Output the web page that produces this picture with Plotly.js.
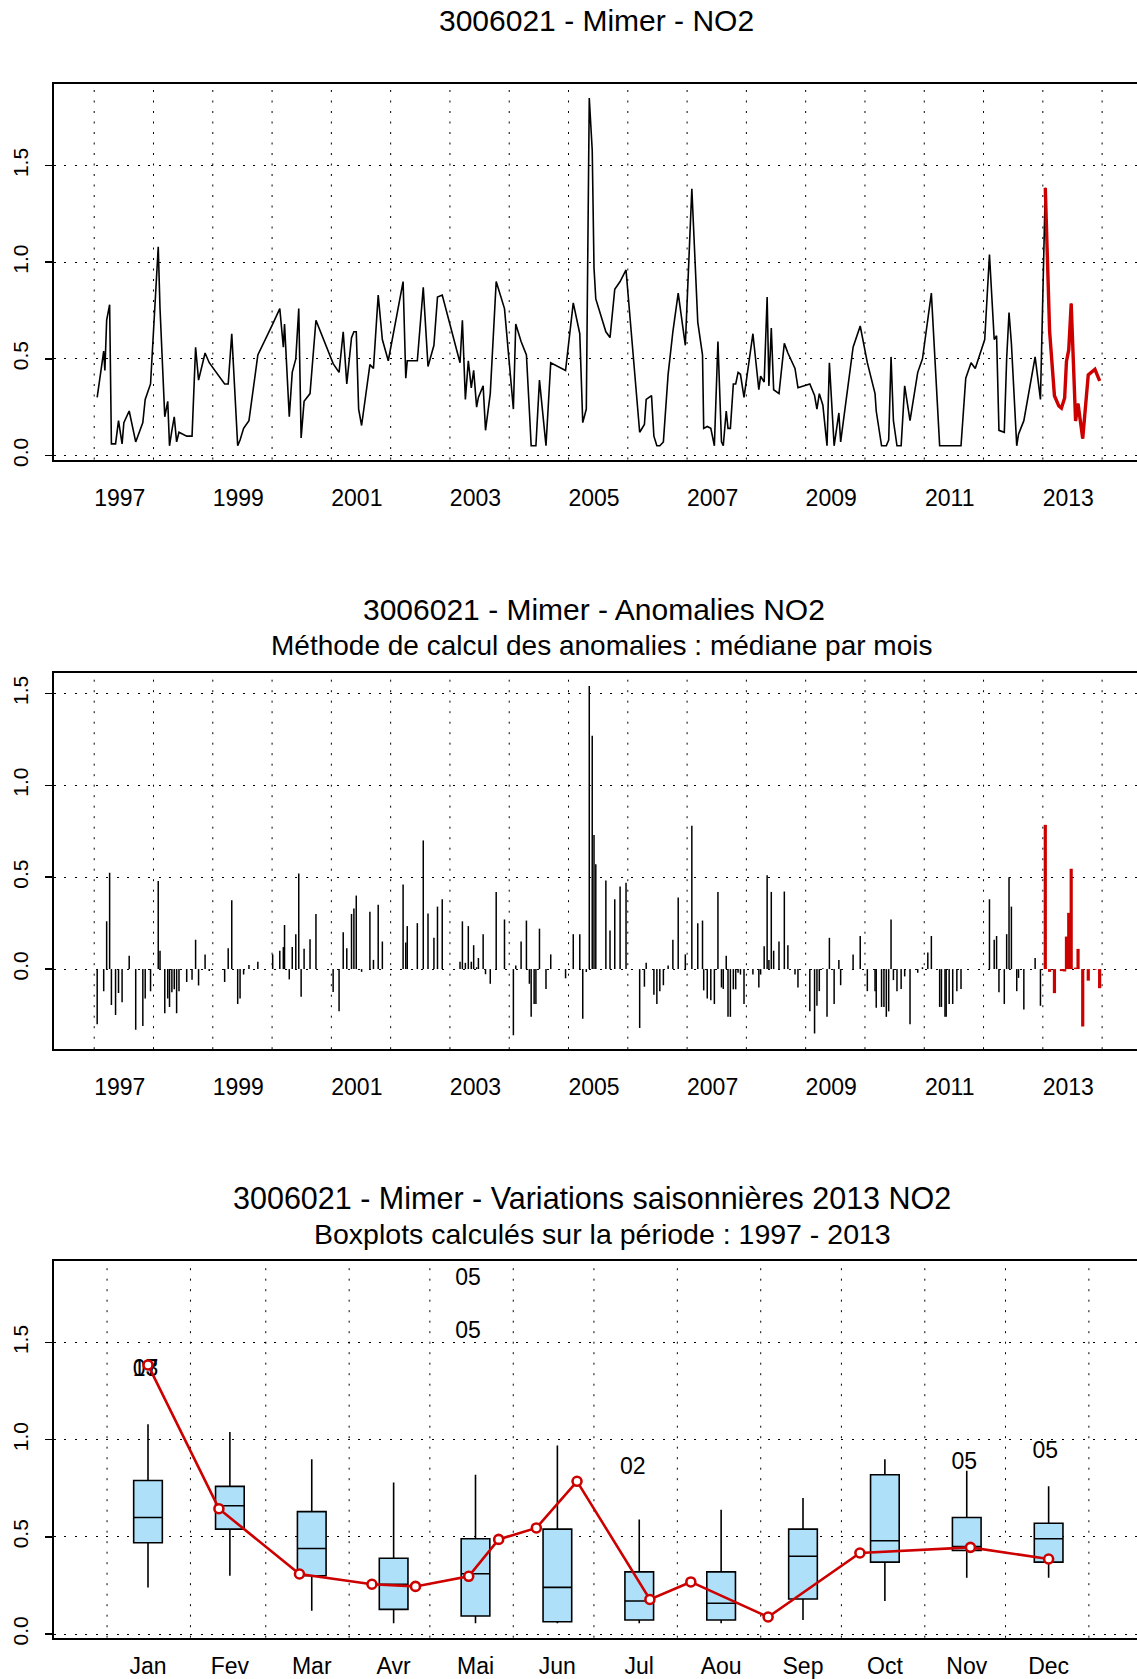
<!DOCTYPE html>
<html><head><meta charset="utf-8">
<script src="https://cdn.plot.ly/plotly-3.0.1.min.js"></script>
<style>html,body{margin:0;padding:0;overflow:hidden;background:#fff}#chart{width:1200px;height:1679px}</style>
</head><body><div id="chart"></div><script>
// ---- Data: NO2 series (decimal year, value) ----
const histT = [1997.05,1997.16,1997.18,1997.21,1997.26,1997.29,1997.36,1997.41,1997.47,1997.50,1997.59,1997.70,1997.82,1997.86,1997.95,
1998.08,1998.11,1998.19,1998.24,1998.27,1998.31,1998.35,1998.39,1998.43,1998.56,1998.65,1998.71,1998.76,1998.87,1998.94,
1999.20,1999.26,1999.32,1999.42,1999.46,1999.52,1999.61,1999.76,
2000.01,2000.13,2000.19,2000.21,2000.29,2000.34,2000.40,2000.45,2000.49,2000.54,2000.64,2000.74,
2001.03,2001.13,2001.20,2001.26,2001.34,2001.38,2001.42,2001.46,2001.51,2001.65,2001.71,2001.79,2001.86,2001.96,
2002.21,2002.255,2002.28,2002.45,2002.55,2002.63,2002.73,2002.79,2002.87,
2003.17,2003.21,2003.26,2003.31,2003.36,2003.40,2003.45,2003.48,2003.56,2003.60,2003.68,2003.78,2003.92,
2004.07,2004.11,2004.20,2004.29,2004.34,2004.37,2004.42,2004.45,2004.51,2004.62,2004.70,2004.95,
2005.08,2005.19,2005.24,2005.30,2005.35,2005.40,2005.43,2005.46,2005.63,2005.70,2005.78,2005.87,2005.97,
2006.20,2006.28,2006.31,2006.40,2006.44,2006.49,2006.54,2006.60,2006.68,2006.76,2006.85,2006.97,
2007.08,2007.18,2007.26,2007.28,2007.34,2007.40,2007.46,2007.52,2007.58,2007.61,2007.66,2007.69,2007.73,2007.78,2007.82,2007.86,2007.90,2007.96,
2008.11,2008.21,2008.24,2008.30,2008.35,2008.38,2008.42,2008.46,2008.55,2008.64,2008.70,2008.82,2008.87,
2009.07,2009.15,2009.19,2009.23,2009.29,2009.36,2009.40,2009.48,2009.56,2009.59,2009.80,2009.92,
2010.04,2010.17,2010.19,2010.28,2010.32,2010.36,2010.40,2010.44,2010.48,2010.54,2010.61,2010.67,2010.76,2010.89,2010.97,
2011.06,2011.12,2011.26,2011.29,2011.35,2011.37,2011.42,2011.48,2011.55,2011.62,2011.70,2011.79,2011.86,
2012.02,2012.10,2012.18,2012.22,2012.26,2012.35,2012.39,2012.43,2012.47,2012.56,2012.59,2012.68,2012.87,2012.96];
const histV = [0.30,0.54,0.44,0.70,0.78,0.06,0.06,0.18,0.06,0.17,0.23,0.07,0.17,0.29,0.37,
1.08,0.76,0.20,0.28,0.05,0.13,0.20,0.07,0.12,0.10,0.10,0.56,0.39,0.53,0.48,
0.37,0.37,0.63,0.05,0.08,0.14,0.18,0.52,
0.68,0.76,0.56,0.68,0.20,0.43,0.50,0.76,0.09,0.28,0.32,0.70,
0.475,0.43,0.64,0.37,0.61,0.64,0.64,0.24,0.155,0.47,0.45,0.83,0.60,0.49,
0.90,0.40,0.49,0.49,0.87,0.46,0.57,0.82,0.83,
0.48,0.70,0.29,0.49,0.35,0.44,0.25,0.30,0.36,0.13,0.32,0.90,0.76,
0.24,0.68,0.59,0.52,0.23,0.05,0.05,0.05,0.39,0.05,0.48,0.44,
0.79,0.63,0.17,0.24,1.85,1.58,0.97,0.81,0.64,0.61,0.86,0.90,0.96,
0.12,0.16,0.29,0.31,0.10,0.05,0.05,0.07,0.42,0.64,0.84,0.57,
1.38,0.69,0.52,0.14,0.15,0.14,0.05,0.59,0.07,0.05,0.23,0.14,0.14,0.37,0.37,0.43,0.42,0.30,
0.63,0.34,0.41,0.38,0.82,0.36,0.66,0.34,0.32,0.58,0.53,0.45,0.35,
0.37,0.31,0.24,0.32,0.26,0.05,0.48,0.05,0.22,0.07,0.56,0.67,
0.48,0.32,0.23,0.05,0.05,0.05,0.08,0.51,0.18,0.05,0.05,0.36,0.18,0.43,0.50,
0.69,0.84,0.05,0.05,0.05,0.05,0.05,0.05,0.05,0.05,0.40,0.48,0.45,
0.60,1.04,0.60,0.62,0.13,0.12,0.50,0.74,0.58,0.05,0.11,0.18,0.51,0.29];

// 2013 values (position within the year on the month scale, value)
const pos2013 = [1.0,1.866,2.85,3.735,4.267,4.917,5.283,5.743,6.24,7.13,7.63,8.574,9.695,11.045,12.0];
const val2013 = [1.385,0.645,0.309,0.256,0.245,0.297,0.487,0.546,0.786,0.178,0.268,0.0875,0.417,0.446,0.386];

// Monthly boxplot statistics (1997 - 2013)
const monthLabels = ['Jan','Fev','Mar','Avr','Mai','Jun','Jul','Aou','Sep','Oct','Nov','Dec'];
const boxLow  = [0.24,0.30,0.12,0.055,0.055,0.055,0.055,0.055,0.072,0.17,0.29,0.29];
const boxQ1   = [0.47,0.54,0.30,0.127,0.093,0.063,0.072,0.072,0.18,0.37,0.43,0.37];
const boxMed  = [0.60,0.66,0.44,0.256,0.31,0.24,0.17,0.158,0.40,0.48,0.45,0.49];
const boxQ3   = [0.79,0.76,0.63,0.39,0.49,0.54,0.32,0.32,0.54,0.82,0.60,0.57];
const boxHigh = [1.08,1.04,0.90,0.78,0.82,0.97,0.59,0.64,0.70,0.90,0.84,0.76];
const outlierMonth = [0.97,0.97,4.91,4.91,6.92,10.97,11.96];
const outlierValue = [1.356,1.356,1.827,1.553,0.851,0.877,0.936];
const outlierYear  = ['07','13','05','05','02','05','05'];

const labelYears = [1997,1999,2001,2003,2005,2007,2009,2011,2013];
const gridYears = [1997,1998,1999,2000,2001,2002,2003,2004,2005,2006,2007,2008,2009,2010,2011,2012,2013,2014];
const monthStartDays = [0,31,59,90,120,151,181,212,243,273,304,334,365];
const yTicks = [0,0.5,1,1.5];
const yTickText = ['0.0','0.5','1.0','1.5'];

// ---- Derived ----
const t2013 = pos2013.map(p => 2013 + (p - 0.5) / 12);
const allT = histT.concat(t2013);
const allV = histV.concat(val2013);
function monthOf(t){ const f = t - Math.floor(t); return Math.min(12, Math.max(1, Math.round(f*12 + 0.5))); }
const anomH = histT.map((t,i) => histV[i] - boxMed[monthOf(t)-1]);
const anom13 = pos2013.map((p,i) => val2013[i] - boxMed[Math.min(12,Math.max(1,Math.round(p)))-1]);
function stems(ts, as){ const x=[],y=[]; ts.forEach((t,i)=>{x.push(t,t,null);y.push(0,as[i],null);}); return {x,y}; }
const sH = stems(histT, anomH), s13 = stems(t2013, anom13);

const RED = '#CD0000';
const FONT = 'Liberation Sans, Arial, Helvetica, sans-serif';
const W = 1200, H = 1679;
const xDom = [53.6/W, 1140/W];
const dom = (top, bot) => [1 - bot/H, 1 - top/H];
const DOT = '2px,8.5px';

const traces = [
  {x: allT, y: allV, type:'scatter', mode:'lines', line:{color:'black', width:1.6}, xaxis:'x', yaxis:'y', hoverinfo:'skip'},
  {x: t2013, y: val2013, type:'scatter', mode:'lines', line:{color:RED, width:3.4}, xaxis:'x', yaxis:'y', hoverinfo:'skip'},
  {x: sH.x, y: sH.y, type:'scatter', mode:'lines', line:{color:'black', width:1.5}, xaxis:'x2', yaxis:'y2', hoverinfo:'skip'},
  {x: s13.x, y: s13.y, type:'scatter', mode:'lines', line:{color:RED, width:3.2}, xaxis:'x2', yaxis:'y2', hoverinfo:'skip'},
  {type:'box', x: monthLabels.map((m,i)=>i+1), q1: boxQ1, median: boxMed, q3: boxQ3, lowerfence: boxLow, upperfence: boxHigh,
   fillcolor:'#AEE0FA', line:{color:'black', width:1.6}, whiskerwidth:0, width:0.35, boxpoints:false, xaxis:'x3', yaxis:'y3', hoverinfo:'skip'},
  {x: outlierMonth, y: outlierValue, text: outlierYear, type:'scatter', mode:'text', textfont:{family:FONT, size:23, color:'black'}, xaxis:'x3', yaxis:'y3', hoverinfo:'skip'},
  {x: pos2013, y: val2013, type:'scatter', mode:'lines+markers', line:{color:RED, width:2.6},
   marker:{symbol:'circle', size:9, color:'white', line:{color:RED, width:2.6}}, xaxis:'x3', yaxis:'y3', hoverinfo:'skip'}
];

const baseX = {showgrid:false, zeroline:false, showline:true, mirror:true, linecolor:'black', linewidth:2,
  ticks:'outside', tickcolor:'rgba(0,0,0,0)', tickfont:{family:FONT, size:23, color:'black'}, domain:xDom};
const baseY = {zeroline:false, showline:true, mirror:true, linecolor:'black', linewidth:2,
  showgrid:true, gridcolor:'black', gridwidth:1, griddash:DOT,
  tickvals:yTicks, ticktext:yTickText, tickangle:-90, ticks:'outside', ticklen:7, tickwidth:1.5, tickcolor:'black',
  tickfont:{family:FONT, size:21, color:'black'}, ticklabelstandoff:8};

const yearRange = [1996.315, 2014.639];
const layout = {
  width:W, height:H, margin:{l:0,r:0,t:0,b:0}, paper_bgcolor:'white', plot_bgcolor:'white', showlegend:false,
  font:{family:FONT, color:'black'},
  xaxis: Object.assign({}, baseX, {anchor:'y', range:yearRange, tickvals:labelYears.map(y=>y+0.43), ticktext:labelYears.map(String), ticklen:17}),
  yaxis: Object.assign({}, baseY, {anchor:'x', domain:dom(83.5,459.5), range:[-0.021,1.925]}),
  xaxis2: Object.assign({}, baseX, {anchor:'y2', range:yearRange, tickvals:labelYears.map(y=>y+0.43), ticktext:labelYears.map(String), ticklen:16}),
  yaxis2: Object.assign({}, baseY, {anchor:'x2', domain:dom(672.5,1049.2), range:[-0.436,1.614]}),
  xaxis3: Object.assign({}, baseX, {anchor:'y3', range:[-0.153,13.116], tickvals:monthLabels.map((m,i)=>i+1), ticktext:monthLabels, ticklen:7}),
  yaxis3: Object.assign({}, baseY, {anchor:'x3', domain:dom(1261,1637.7), range:[-0.019,1.92]}),
  shapes: [],
  annotations: [
    {text:'3006021 - Mimer - NO2', x:596/W, y:1-20/H, xref:'paper', yref:'paper', showarrow:false, xanchor:'center', yanchor:'middle', font:{family:FONT,size:30}},
    {text:'3006021 - Mimer - Anomalies NO2', x:594/W, y:1-609/H, xref:'paper', yref:'paper', showarrow:false, xanchor:'center', yanchor:'middle', font:{family:FONT,size:30}},
    {text:'Méthode de calcul des anomalies : médiane par mois', x:601/W, y:1-645/H, xref:'paper', yref:'paper', showarrow:false, xanchor:'center', yanchor:'middle', font:{family:FONT,size:28}},
    {text:'3006021 - Mimer - Variations saisonnières 2013 NO2', x:592/W, y:1-1198/H, xref:'paper', yref:'paper', showarrow:false, xanchor:'center', yanchor:'middle', font:{family:FONT,size:30.5}},
    {text:'Boxplots calculés sur la période : 1997 - 2013', x:603/W, y:1-1234/H, xref:'paper', yref:'paper', showarrow:false, xanchor:'center', yanchor:'middle', font:{family:FONT,size:28.5}}
  ]
};
const gl = {color:'black', width:1, dash:DOT};
gridYears.forEach(yr => {
  layout.shapes.push({type:'line', xref:'x', yref:'y domain', x0:yr, x1:yr, y0:0, y1:1, line:gl, layer:'below'});
  layout.shapes.push({type:'line', xref:'x2', yref:'y2 domain', x0:yr, x1:yr, y0:0, y1:1, line:gl, layer:'below'});
});
monthStartDays.forEach(d => {
  const p = 0.5 + d / (365.25/12);
  layout.shapes.push({type:'line', xref:'x3', yref:'y3 domain', x0:p, x1:p, y0:0, y1:1, line:gl, layer:'below'});
});
Plotly.newPlot('chart', traces, layout, {staticPlot:true, displayModeBar:false});
</script></body></html>
